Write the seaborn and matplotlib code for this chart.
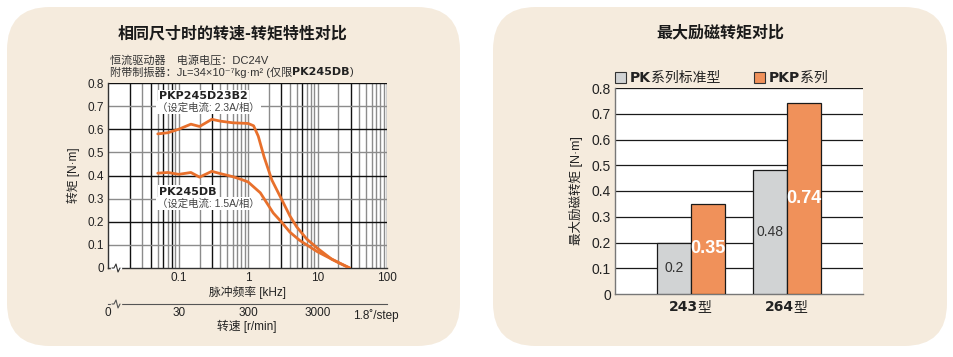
import pandas as pd
import matplotlib.pyplot as plt
import matplotlib.transforms as mtrans
import seaborn as sns
import numpy as np
from matplotlib.patches import FancyBboxPatch, Rectangle

# ---- data ----
# speed-torque curves (pulse frequency kHz, torque N.m)
pkp_freq = [0.05, 0.07, 0.1, 0.15, 0.2, 0.3, 0.4, 0.6, 1.0, 1.2, 1.4, 1.7, 2.2, 3.0, 4.0, 5.0, 7.0, 10, 16, 29]
pkp_torque = [0.58, 0.585, 0.60, 0.622, 0.612, 0.643, 0.635, 0.628, 0.625, 0.615, 0.57, 0.48, 0.38, 0.30,
              0.225, 0.178, 0.125, 0.085, 0.038, 0.0]
pk_freq = [0.05, 0.07, 0.1, 0.15, 0.2, 0.3, 0.4, 0.6, 0.8, 1.0, 1.5, 2.3, 3.0, 4.0, 5.5, 10, 21, 29]
pk_torque = [0.41, 0.413, 0.405, 0.413, 0.393, 0.418, 0.408, 0.395, 0.383, 0.372, 0.325, 0.238, 0.20,
             0.155, 0.12, 0.07, 0.02, 0.0]
freq_ticks = [0.1, 1, 10, 100]
freq_labels = ['0.1', '1', '10', '100']
speed_labels = ['30', '300', '3000']

# holding torque bars
models = ['243', '264']
series = ['PK系列标准型', 'PKP系列']
pk_hold = [0.2, 0.48]
pkp_hold = [0.35, 0.74]

# ---- style ----
sns.set_style('white')
plt.rcParams['font.family'] = ['Liberation Sans Narrow', 'Liberation Sans', 'Noto Sans CJK SC', 'DejaVu Sans']
CJK = ['Noto Sans CJK SC', 'DejaVu Sans']
MIX = ['Liberation Sans', 'Noto Sans CJK SC', 'DejaVu Sans']
BOLD = ['DejaVu Sans', 'Noto Sans CJK SC']
beige = '#F5EBDD'
line_orange = '#E8702C'
bar_orange = '#F0915A'
bar_gray = '#D1D3D4'
txt = '#222222'

W, H = 954, 357
fig = plt.figure(figsize=(W / 100, H / 100), dpi=100)
fig.patch.set_facecolor('white')


def px(x, y):
    # pixel (from top-left) -> figure fraction
    return x / W, 1 - y / H


# rounded panels
for x0, x1 in [(7, 460), (493, 947)]:
    fig.patches.append(FancyBboxPatch(px(x0, 346), (x1 - x0) / W, 339 / H,
                                      boxstyle='round,pad=0,rounding_size=0.045',
                                      transform=fig.transFigure, facecolor=beige,
                                      edgecolor='none', zorder=-5, mutation_aspect=W / H))

# ================= left: speed-torque =================
ax = fig.add_axes([108 / W, 1 - 268 / H, 279 / W, 185 / H])
ax.set_zorder(2)
ax.set_facecolor('white')
ax.set_xscale('log')
ax.set_xlim(0.0096, 100)
ax.set_ylim(0, 0.8)

black_v = [0.02, 0.04, 0.06, 0.08, 0.3, 3, 6, 30, 100]
for k in [0.01, 0.1, 1, 10]:
    for m in range(1, 10):
        v = round(k * m, 4)
        if v <= 0.01:
            continue
        ax.axvline(v, color='#111111' if v in black_v else '#8c8c8c', lw=1.0, zorder=1)
ax.axvline(100, color='#111111', lw=1.0, zorder=1)
for i, v in enumerate(np.arange(1, 9) / 10):
    ax.axhline(v, color='#111111' if (i % 2 == 1) else '#8c8c8c', lw=1.0, zorder=1)

df_c = pd.concat([
    pd.DataFrame({'freq': pkp_freq, 'torque': pkp_torque, 'model': 'PKP245D23B2'}),
    pd.DataFrame({'freq': pk_freq, 'torque': pk_torque, 'model': 'PK245DB'}),
])
sns.lineplot(data=df_c, x='freq', y='torque', units='model', estimator=None,
             color=line_orange, lw=2.0, ax=ax, zorder=5)
ax.set_xlabel('')
ax.set_ylabel('转矩 [N·m]', fontsize=8.5, family=MIX, color=txt, labelpad=5)
ax.set_xticks(freq_ticks)
ax.set_xticklabels(freq_labels)
ax.xaxis.set_minor_locator(plt.NullLocator())
ax.set_yticks(np.arange(0, 9) / 10)
ax.set_yticklabels(['0'] + ['%.1f' % v for v in np.arange(1, 9) / 10])
ax.tick_params(length=0, labelsize=8.5, labelcolor=txt, pad=3)
for s in ['top', 'right']:
    ax.spines[s].set_visible(False)
for s in ['left', 'bottom']:
    ax.spines[s].set_color('#333333')
    ax.spines[s].set_linewidth(1.0)
ax.text(0.5, -0.13, '脉冲频率 [kHz]', transform=ax.transAxes, ha='center', va='center',
        fontsize=8.5, family=MIX, color=txt)

# axis break on frequency axis
ax.plot(np.array([4, 12]) / 279, [0, 0], transform=ax.transAxes, color='white', lw=2.5,
        clip_on=False, zorder=6)
ax.plot(np.array([4, 6, 8, 10, 12]) / 279, np.array([0, 0, 4, -4, 0]) / 185, transform=ax.transAxes,
        color='#333333', lw=0.8, clip_on=False, zorder=7)

# curve labels
bb = dict(facecolor='white', edgecolor='none', pad=1.0)
ax.text(0.052, 0.742, 'PKP245D23B2', fontsize=8, fontweight='bold', family=BOLD, color=txt,
        va='center', ha='left', zorder=8, bbox=bb)
ax.text(0.049, 0.693, '（设定电流: 2.3A/相）', fontsize=7.5, family=MIX, color='#444444',
        va='center', ha='left', zorder=8, bbox=bb)
ax.text(0.052, 0.33, 'PK245DB', fontsize=8, fontweight='bold', family=BOLD, color=txt,
        va='center', ha='left', zorder=8, bbox=bb)
ax.text(0.049, 0.279, '（设定电流: 1.5A/相）', fontsize=7.5, family=MIX, color='#444444',
        va='center', ha='left', zorder=8, bbox=bb)

# speed axis
ax2 = fig.add_axes([108 / W, 1 - 304 / H, 279 / W, 0.0001])
ax2.set_zorder(2)
ax2.set_xscale('log')
ax2.set_xlim(ax.get_xlim())
ax2.set_facecolor('none')
for s in ['top', 'right', 'left']:
    ax2.spines[s].set_visible(False)
ax2.spines['bottom'].set_color('#555555')
ax2.set_yticks([])
ax2.set_xticks([0.0096] + freq_ticks[:3])
ax2.set_xticklabels(['0'] + speed_labels)
ax2.xaxis.set_minor_locator(plt.NullLocator())
ax2.tick_params(axis='x', direction='in', length=3, width=0.8, color='#555555',
                labelsize=8.5, labelcolor=txt, pad=2)
down = mtrans.ScaledTranslation(0, -5 / 100, fig.dpi_scale_trans)
ax2.text(0.96, 0, '1.8˚/step', transform=ax2.transAxes + down, ha='center', va='top',
         fontsize=8.5, color=txt)
ax2.plot(np.array([4, 12]) / 279, [0, 0], transform=ax2.transAxes, color=beige, lw=2.5,
         clip_on=False, zorder=6)
fig.lines.append(plt.Line2D(np.array([112, 114, 116, 118, 120]) / W,
                            1 - np.array([304, 304, 300, 308, 304]) / H,
                            transform=fig.transFigure, color='#555555', lw=0.8, zorder=5))
fig.text(247 / W, 1 - 326 / H, '转速 [r/min]', ha='center', va='center', fontsize=8.5,
         family=MIX, color=txt)

# titles / notes
fig.text(233 / W, 1 - 33 / H, '相同尺寸时的转速-转矩特性对比', ha='center', va='center',
         fontsize=11.5, family=CJK, color='#1a1a1a', fontweight='bold')
fig.text(110 / W, 1 - 60 / H, '恒流驱动器　电源电压：DC24V', ha='left', va='center',
         fontsize=8, family=MIX, color='#333333')
t0 = fig.text(110 / W, 1 - 72 / H, '附带制振器：Jʟ=34×10⁻⁷kg·m² (仅限', ha='left', va='center',
              fontsize=8, family=MIX, color='#333333')
t1 = fig.add_artist(plt.Annotation('PK245DB', xy=(1, 0.5), xycoords=t0, va='center', ha='left',
                                   fontsize=8, fontweight='bold', family=BOLD, color='#222222'))
fig.add_artist(plt.Annotation(')', xy=(1, 0.5), xycoords=t1, va='center', ha='left',
                              fontsize=8, family=MIX, color='#333333'))

# ================= right: holding torque =================
bx = fig.add_axes([615 / W, 1 - 294 / H, 248 / W, 206 / H])
bx.set_zorder(2)
bx.set_facecolor('white')
df_b = pd.DataFrame({'model': models * 2,
                     'torque': pk_hold + pkp_hold,
                     'series': [series[0]] * 2 + [series[1]] * 2})
sns.barplot(data=df_b, x='model', y='torque', hue='series', palette=[bar_gray, bar_orange],
            width=0.71, gap=0, edgecolor='#1a1a1a', linewidth=0.9, saturation=1,
            legend=False, ax=bx, zorder=3)
bx.set_xlim(-0.79, 1.79)
bx.set_ylim(0, 0.8)
for v in np.arange(1, 9) / 10:
    bx.axhline(v, color='#1a1a1a', lw=0.9, zorder=1)
bx.set_yticks(np.arange(0, 9) / 10)
bx.set_yticklabels(['0'] + ['%.1f' % v for v in np.arange(1, 9) / 10])
bx.tick_params(length=0, labelsize=10, labelcolor=txt, pad=3)
bx.set_xticks([])
bx.set_xlabel('')
bx.set_ylabel('最大励磁转矩 [N·m]', fontsize=9, family=MIX, color=txt, labelpad=6)
for s in ['top', 'right']:
    bx.spines[s].set_visible(False)
for s in ['left', 'bottom']:
    bx.spines[s].set_color('#777777')
    bx.spines[s].set_linewidth(1.0)

bx.bar_label(bx.containers[0], fmt='%g', label_type='center', fontsize=10, color='#333333')
bx.bar_label(bx.containers[1], fmt='%g', label_type='center', fontsize=13, color='white',
             fontweight='bold', family=['Liberation Sans Narrow', 'Liberation Sans'])

for i, m in enumerate(models):
    t = bx.text(i + 0.07, -0.063, m, transform=bx.get_xaxis_transform(), ha='right', va='center',
                fontsize=10, fontweight='bold', family=BOLD, color=txt)
    bx.annotate('型', xy=(1, 0.5), xycoords=t, va='center', ha='left', fontsize=10,
                family=CJK, color=txt, annotation_clip=False)

fig.text(720 / W, 1 - 32 / H, '最大励磁转矩对比', ha='center', va='center',
         fontsize=11.5, family=CJK, color='#1a1a1a', fontweight='bold')

# legend swatches
for (lx, col, bold, rest) in [(615, bar_gray, 'PK', '系列标准型'), (754, bar_orange, 'PKP', '系列')]:
    fig.patches.append(Rectangle(px(lx, 83), 11 / W, 11 / H, transform=fig.transFigure,
                                 facecolor=col, edgecolor='#333333', lw=0.8, zorder=3))
    tb = fig.text((lx + 15) / W, 1 - 77.5 / H, bold, ha='left', va='center', fontsize=10,
                  fontweight='bold', family=BOLD, color=txt)
    fig.add_artist(plt.Annotation(rest, xy=(1, 0.5), xycoords=tb, va='center', ha='left',
                                  fontsize=10, family=CJK, color=txt))

fig.savefig('out.png', dpi=100)
